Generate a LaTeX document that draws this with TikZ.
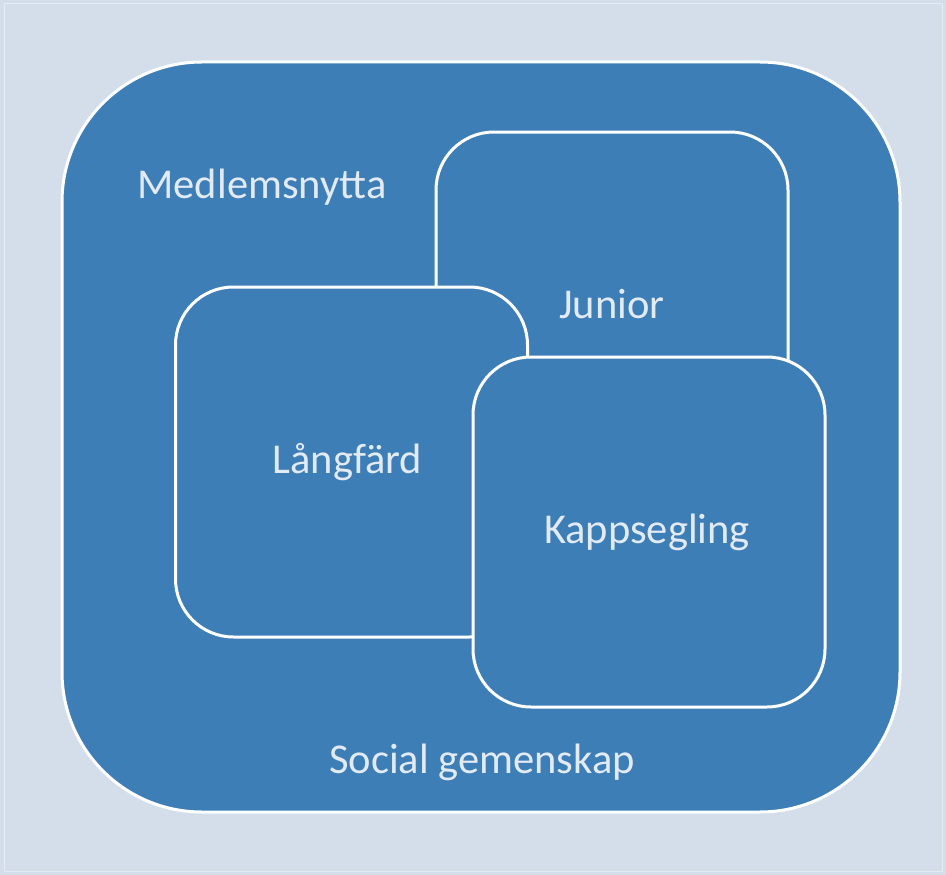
\documentclass[tikz,border=0pt]{standalone}
\usepackage{fontspec}
\setmainfont{Carlito}
\definecolor{bg}{HTML}{D3DEEA}
\definecolor{frame}{HTML}{E4EBF3}
\definecolor{boxblue}{HTML}{3D7EB7}
\definecolor{txt}{HTML}{E2EAF4}
\begin{document}
\begin{tikzpicture}[x=1pt,y=-1pt,
  every node/.style={font=\fontsize{42.5}{44}\selectfont, text=txt},
  outerbox/.style={draw=white, line width=3pt, fill=boxblue, rounded corners=140pt},
  innerbox/.style={draw=white, line width=3pt, fill=boxblue, rounded corners=58pt,
    minimum width=352pt, minimum height=350pt, inner sep=0pt}]
\fill[bg] (0,0) rectangle (946,875);
\draw[frame, line width=1pt] (4,4) rectangle (942,871);
\useasboundingbox (0,0) rectangle (946,875);
\path[outerbox] (62,62) rectangle (900,812);
\node[innerbox] (junior) at (612,307) {\raisebox{6pt}{Junior}};
\node[innerbox] (langfard) at (351.5,462) {\hspace*{-8pt}\raisebox{8pt}{Långfärd}};
\node[innerbox] (kapp) at (649,532) {\hspace*{-4pt}\raisebox{-1pt}{Kappsegling}};
\node (medlem) at (262,187) {Medlemsnytta};
\node (social) at (482,762) {Social gemenskap};
\end{tikzpicture}
\end{document}
